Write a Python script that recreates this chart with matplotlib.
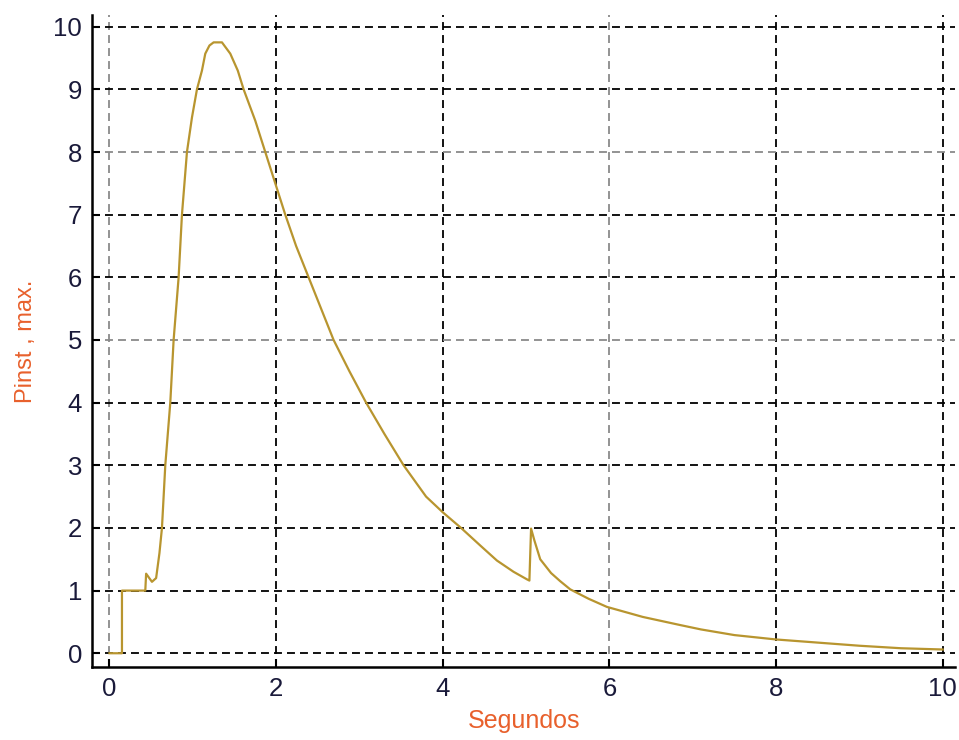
import matplotlib
matplotlib.use("Agg")
import matplotlib.pyplot as plt

# Instantaneous max power vs. time
segundos = [0.00, 0.15, 0.15, 0.43, 0.44, 0.51, 0.56, 0.60, 0.63, 0.67, 0.73,
            0.77, 0.83, 0.87, 0.93, 0.99, 1.05, 1.11, 1.15, 1.20, 1.25, 1.35,
            1.45, 1.54, 1.61, 1.75, 1.87, 1.99, 2.11, 2.24, 2.39, 2.54, 2.69,
            2.88, 3.08, 3.30, 3.53, 3.80, 4.00, 4.22, 4.45, 4.65, 4.85, 5.01,
            5.04, 5.06, 5.10, 5.17, 5.30, 5.41, 5.53, 5.75, 5.97, 6.40, 6.85,
            7.10, 7.50, 8.00, 8.50, 9.00, 9.50, 10.00]
pinst = [0.00, 0.00, 1.00, 1.00, 1.27, 1.14, 1.20, 1.60, 2.00, 3.00, 4.00,
         5.00, 6.00, 7.00, 8.00, 8.55, 9.00, 9.30, 9.57, 9.70, 9.75, 9.75,
         9.57, 9.30, 9.00, 8.50, 8.00, 7.50, 7.00, 6.50, 6.00, 5.50, 5.00,
         4.50, 4.00, 3.50, 3.00, 2.50, 2.25, 2.00, 1.72, 1.48, 1.30, 1.18,
         1.16, 1.99, 1.80, 1.50, 1.28, 1.15, 1.02, 0.87, 0.74, 0.58, 0.45,
         0.38, 0.29, 0.22, 0.17, 0.12, 0.08, 0.06]

x_ticks = [0, 2, 4, 6, 8, 10]
y_ticks = list(range(0, 11))
# grid lines drawn in a lighter grey
light_x = [0, 6]
light_y = [5, 8]

plt.rcParams["font.family"] = ["Liberation Sans", "DejaVu Sans"]

fig = plt.figure(figsize=(9.59, 7.40), dpi=100)
ax = fig.add_axes([0.0959, 0.0986, 0.9001, 0.8814])

ax.plot(segundos, pinst, color="#b8952f", linewidth=1.6, zorder=3)

ax.set_xlim(-0.21, 10.15)
ax.set_ylim(-0.22, 10.19)
ax.set_xticks(x_ticks)
ax.set_yticks(y_ticks)

ax.grid(True, color="black", linestyle=(0, (4.4, 2.8)), linewidth=1.3, zorder=1)
for val, gl in zip(x_ticks, ax.get_xgridlines()):
    if val in light_x:
        gl.set_color("#8a8a8a")
for val, gl in zip(y_ticks, ax.get_ygridlines()):
    if val in light_y:
        gl.set_color("#8a8a8a")

for side in ("top", "right"):
    ax.spines[side].set_visible(False)
for side in ("left", "bottom"):
    ax.spines[side].set_linewidth(1.8)
    ax.spines[side].set_color("black")

ax.tick_params(direction="in", length=6, width=1.5, labelsize=18.5,
               labelcolor="#1a1a3a", pad=7)

label_color = "#e8602c"
ax.set_xlabel("Segundos", color=label_color, fontsize=18, labelpad=6)
ax.set_ylabel("Pinst , max.", color=label_color, fontsize=17, labelpad=12)

fig.savefig("out.png", dpi=100)
